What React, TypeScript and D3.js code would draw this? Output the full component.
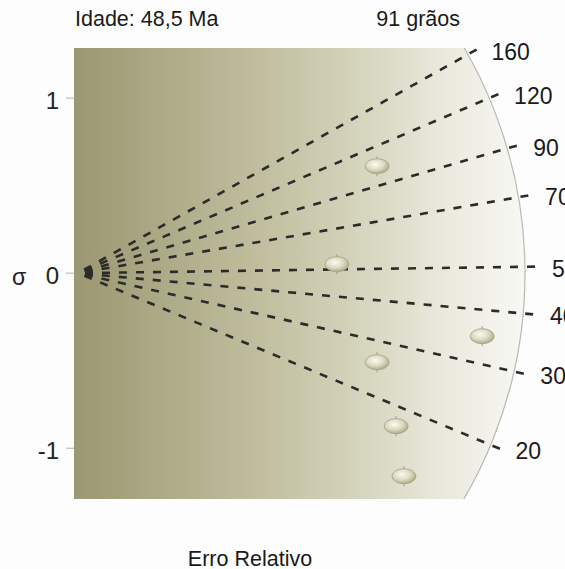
import React from "react";
import * as d3 from "d3";

// radial plot (Galbraith) values
const centralAge = 48.5;
const grainCount = 91;
const ageTicks = [20, 30, 40, 50, 70, 90, 120, 160];
const sigmaTicks = [-1, 0, 1];
// precision (1/sigma) and standardised estimate of each grain
const grainPrecision = [0.803, 0.695, 1.085, 0.803, 0.854, 0.875];
const grainSigma = [0.611, 0.051, -0.36, -0.509, -0.874, -1.16];

const W = 565;
const H = 569;
const font = "'Liberation Sans', Arial, Helvetica, sans-serif";

export default function App() {
  const x = d3.scaleLinear().domain([0, 1.2]).range([78, 525]);
  const y = d3.scaleLinear().domain([-1.29, 1.286]).range([499, 48]);

  const ox = x(0);
  const oy = y(0);
  const R = x(1.2) - x(0);
  const sx = x(1) - x(0);
  const sy = y(0) - y(1);

  // pixel direction of the ray for a given age
  const dir = (t: number) => {
    const dz = Math.log(t) - Math.log(centralAge);
    const dx = sx;
    const dy = -sy * dz;
    const len = Math.hypot(dx, dy);
    return [dx / len, dy / len];
  };

  const plotLeft = 74;
  const plotTop = y(1.286);
  const plotBottom = y(-1.29);

  const rays = ageTicks.map((t) => {
    const [cx, cy] = dir(t);
    const r0 = 7;
    const r1 = 460;
    return {
      t,
      x1: ox + cx * r0,
      y1: oy + cy * r0,
      x2: ox + cx * r1,
      y2: oy + cy * r1,
      lx: ox + cx * 474,
      ly: oy + cy * 474 * 0.964 + 2,
    };
  });

  const grains = grainPrecision.map((p, i) => ({ px: x(p), py: y(grainSigma[i]) }));

  return (
    <svg
      width={W}
      height={H}
      style={{ position: "absolute", left: 0, top: 0, background: "#fdfdfd" }}
      fontFamily={font}
    >
      <defs>
        <linearGradient id="bg" gradientUnits="userSpaceOnUse" x1={plotLeft} x2={ox + R} y1={0} y2={0}>
          <stop offset="0%" stopColor="#9b9772" />
          <stop offset="20%" stopColor="#adaa87" />
          <stop offset="42%" stopColor="#c1bf9f" />
          <stop offset="65%" stopColor="#d7d6bf" />
          <stop offset="82%" stopColor="#eae9dd" />
          <stop offset="100%" stopColor="#f8f8f4" />
        </linearGradient>
        <radialGradient id="dot" cx="42%" cy="38%" r="65%">
          <stop offset="0%" stopColor="#fbfbf2" />
          <stop offset="55%" stopColor="#dcdac0" />
          <stop offset="100%" stopColor="#a9a784" />
        </radialGradient>
        <clipPath id="arcClip">
          <circle cx={ox} cy={oy} r={R} />
        </clipPath>
        <clipPath id="rectClip">
          <rect x={plotLeft} y={plotTop} width={W} height={plotBottom - plotTop} />
        </clipPath>
      </defs>

      {/* shaded plot region */}
      <rect
        x={plotLeft}
        y={plotTop}
        width={W - plotLeft}
        height={plotBottom - plotTop}
        fill="url(#bg)"
        clipPath="url(#arcClip)"
      />
      <circle
        cx={ox}
        cy={oy}
        r={R}
        fill="none"
        stroke="#b9b9b2"
        strokeWidth={1.2}
        clipPath="url(#rectClip)"
      />

      {/* sigma axis */}
      {sigmaTicks.map((s) => (
        <g key={s}>
          <line x1={66} x2={plotLeft} y1={y(s)} y2={y(s)} stroke="#b0b0b0" strokeWidth={1} />
          <text x={59} y={y(s) + 2} textAnchor="end" dominantBaseline="central" fontSize={24} fill="#222">
            {s}
          </text>
        </g>
      ))}
      <text x={19} y={oy + 4} textAnchor="middle" dominantBaseline="central" fontSize={23} fill="#222">
        σ
      </text>

      {/* age rays */}
      {rays.map((r) => (
        <g key={r.t}>
          <line
            x1={r.x1}
            y1={r.y1}
            x2={r.x2}
            y2={r.y2}
            stroke="#2b2b2b"
            strokeWidth={2.6}
            strokeDasharray="8,9"
          />
          <text x={r.lx} y={r.ly} dominantBaseline="central" fontSize={23} fill="#1a1a1a">
            {r.t}
          </text>
        </g>
      ))}

      {/* grains */}
      {grains.map((g, i) => (
        <g key={i}>
          <line x1={g.px} x2={g.px} y1={g.py - 10} y2={g.py + 10} stroke="#9a9a90" strokeWidth={1} />
          <ellipse cx={g.px} cy={g.py} rx={12} ry={7.5} fill="url(#dot)" stroke="#a3a188" strokeWidth={0.8} />
        </g>
      ))}

      <text x={75} y={26} fontSize={21.5} fill="#1a1a1a">
        {`Idade: ${String(centralAge).replace(".", ",")} Ma`}
      </text>
      <text x={460} y={26} textAnchor="end" fontSize={21.5} fill="#1a1a1a">
        {`${grainCount} grãos`}
      </text>
      <text x={250} y={566} textAnchor="middle" fontSize={21.5} fill="#1a1a1a">
        Erro Relativo
      </text>
    </svg>
  );
}
